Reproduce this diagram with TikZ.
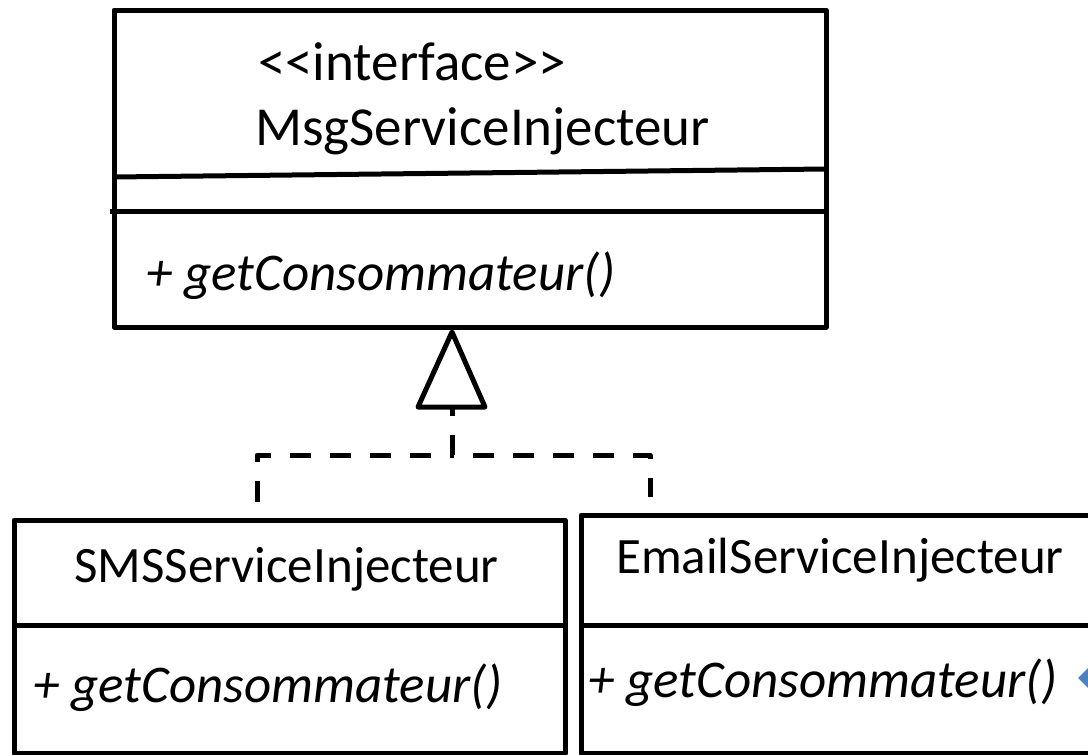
\documentclass[tikz,border=0pt]{standalone}
\usepackage{fontspec}
\setmainfont{Carlito}
\begin{document}
\begin{tikzpicture}[x=1pt,y=-1pt,
  box/.style={draw=black,line width=5pt,line join=round},
  rule/.style={draw=black,line width=5pt},
  txt/.style={inner sep=0pt,anchor=base west},
  bigtxt/.style={txt,font=\fontsize{55}{60}\selectfont},
  nametxt/.style={txt,font=\fontsize{51}{56}\selectfont},
  itxt/.style={txt,font=\fontsize{53}{58}\selectfont\itshape},
  realize/.style={draw=black,line width=5pt,dash pattern=on 21pt off 19pt,line cap=butt,line join=round},
  headtip/.style={draw=black,line width=5pt,line join=round,fill=white}]
\useasboundingbox (0,0) rectangle (1088,755);

% interface box
\draw[box] (114,10) rectangle (826,327);
\draw[rule] (114,177) -- (826,169);
\draw[rule] (110,211) -- (826,211);
\node[bigtxt] (stereo) at (258,80) {<{}<interface>{}>};
\node[bigtxt] (iname) at (255,145) {MsgServiceInjecteur};
\node[itxt] (imeth) at (146,290) {+ getConsommateur()};
\coordinate (apex) at (452,332);

% implementing classes
\draw[box] (14,520) rectangle (565,753);
\draw[rule] (14,625) -- (565,625);
\node[nametxt] (sname) at (74,582) {SMSServiceInjecteur};
\node[itxt] (smeth) at (33,702) {+ getConsommateur()};

\draw[box] (1095,515) -- (581,515) -- (581,753) -- (1095,753);
\draw[rule] (581,625) -- (1095,625);
\node[nametxt] (ename) at (616,573) {EmailServiceInjecteur};
\node[itxt] (emeth) at (588,697) {+ getConsommateur()};

% realization connector
\coordinate (base) at (452,407);
\coordinate (join) at (452,455);
\coordinate (lturn) at (257,455);
\coordinate (rturn) at (650,455);
\coordinate (lend) at (257,518);
\coordinate (rend) at (650,497);
\draw[realize,dash phase=12pt] (base) -- (join);
\draw[realize,dash phase=19pt] (join) -- (lturn) -- (lend);
\draw[realize,dash phase=19pt] (join) -- (rturn) -- (rend);
\draw[headtip] (apex) -- (485,407) -- (418,407) -- cycle;

% partial blue diamond at the right edge
\fill[fill={rgb,255:red,79;green,129;blue,189}] (1078,678) -- (1090,666) -- (1102,678) -- (1090,690) -- cycle;
\end{tikzpicture}
\end{document}
